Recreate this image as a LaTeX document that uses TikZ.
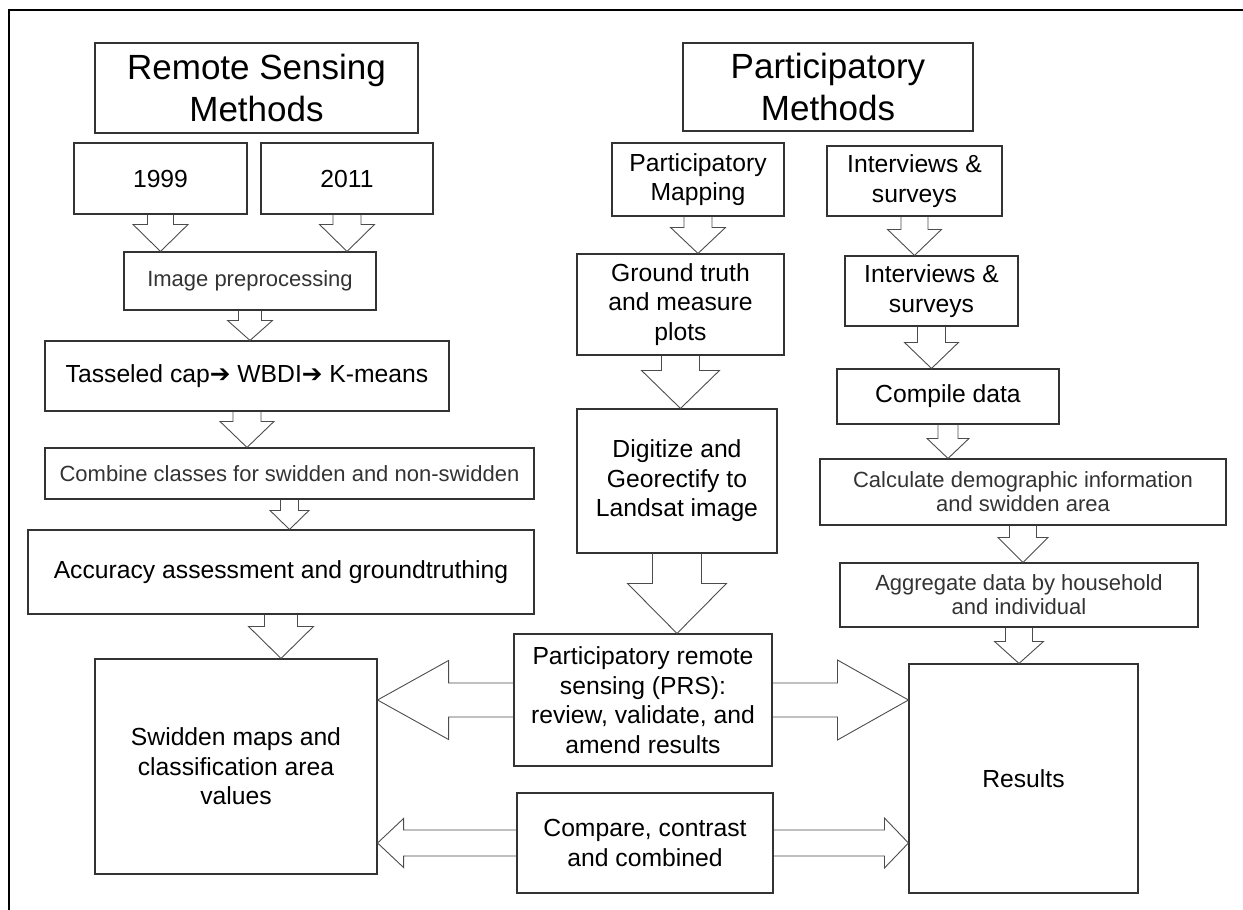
\documentclass[tikz,border=0pt]{standalone}
\usepackage{fontspec}
\setmainfont{Liberation Sans}
\newfontfamily\dejavu{DejaVu Sans}
\usetikzlibrary{calc}
\tikzset{
 box/.style={draw=black!80, line width=1.1pt, align=center, inner sep=0pt, font=\fontsize{24.7}{29.5}\selectfont},
 lightbox/.style={box, font=\fontsize{22}{24}\selectfont, text=black!80},
 titlebox/.style={box, font=\fontsize{35}{42}\selectfont},
 blk/.style={draw=black!70, line width=0.9pt, line join=miter},
 frameline/.style={line width=2.5pt, draw=black}
}
% \bx{name}{style}{left}{top}{right}{bottom}{text}
\newcommand{\bx}[7]{\node[#2, minimum width={#5pt-#3pt}, minimum height={#6pt-#4pt}] (#1) at ({(#3+#5)/2},{(#4+#6)/2}) {#7};}
% \darr{from}{to}{shaft half}{wing half}{head length}
\newcommand{\darr}[5]{\draw[blk] let \p1=(#1.south), \p2=(#2.north) in
 (\x1-#3pt,\y1) -- (\x1-#3pt,\y2+#5pt) -- (\x1-#4pt,\y2+#5pt) -- (\x1,\y2) -- (\x1+#4pt,\y2+#5pt) -- (\x1+#3pt,\y2+#5pt) -- (\x1+#3pt,\y1);}
\newcommand{\larr}[5]{\draw[blk] let \p1=(#1.west), \p2=(#2.east) in
 (\x1,\y1+#3pt) -- (\x2+#5pt,\y1+#3pt) -- (\x2+#5pt,\y1+#4pt) -- (\x2,\y1) -- (\x2+#5pt,\y1-#4pt) -- (\x2+#5pt,\y1-#3pt) -- (\x1,\y1-#3pt);}
\newcommand{\rarr}[5]{\draw[blk] let \p1=(#1.east), \p2=(#2.west) in
 (\x1,\y1+#3pt) -- (\x2-#5pt,\y1+#3pt) -- (\x2-#5pt,\y1+#4pt) -- (\x2,\y1) -- (\x2-#5pt,\y1-#4pt) -- (\x2-#5pt,\y1-#3pt) -- (\x1,\y1-#3pt);}
\begin{document}
\begin{tikzpicture}[x=1pt,y=-1pt]
\useasboundingbox (0,0) rectangle (1243,910);
% frame
\coordinate (ftl) at (9,10);
\coordinate (ftr) at (1243,10);
\coordinate (fbl) at (9,910);
\draw[frameline] (ftr) -- (ftl) -- (fbl);
% left column
\bx{rsm}{titlebox}{95}{43}{418}{133}{Remote Sensing\\Methods}
\bx{y1999}{box}{74}{143}{247}{214}{1999}
\bx{y2011}{box}{261}{143}{433}{214}{2011}
\bx{imgpre}{lightbox}{124}{252}{376}{310}{Image preprocessing}
\bx{tass}{box}{45}{341}{449}{411}{Tasseled cap{\dejavu ➔} WBDI{\dejavu ➔} K-means}
\bx{comb}{lightbox}{45}{448}{534}{499}{Combine classes for swidden and non-swidden}
\bx{acc}{box}{28}{530}{534}{614}{Accuracy assessment and groundtruthing}
\bx{swid}{box}{95}{659}{377}{874}{Swidden maps and\\classification area\\values}
% middle column
\bx{pm}{titlebox}{683}{43}{973}{131}{Participatory\\Methods}
\bx{pmap}{box}{612}{143}{784}{216}{Participatory\\Mapping}
\bx{gt}{box}{577}{254}{784}{355}{Ground truth\\and measure\\plots}
\bx{dig}{box}{577}{409}{777}{553}{Digitize and\\Georectify to\\Landsat image}
\bx{prs}{box}{514}{634}{772}{766}{Participatory remote\\sensing (PRS):\\review, validate, and\\amend results}
\bx{cmp}{box}{517}{793}{773}{893}{Compare, contrast\\and combined}
% right column
\bx{is1}{box}{827}{146}{1002}{216}{Interviews \&\\surveys}
\bx{is2}{box}{845}{256}{1018}{326}{Interviews \&\\surveys}
\bx{compile}{box}{837}{369}{1059}{424}{Compile data}
\bx{calc}{lightbox}{820}{459}{1226}{525}{Calculate demographic information\\and swidden area}
\bx{agg}{lightbox}{840}{563}{1198}{627}{Aggregate data by household\\and individual}
\bx{res}{box}{909}{664}{1138}{893}{Results}
% block arrows
\darr{y1999}{imgpre}{13}{27.5}{27}
\darr{y2011}{imgpre}{14}{27.5}{27}
\darr{imgpre}{tass}{11.5}{22.5}{20}
\darr{tass}{comb}{14}{27}{26}
\darr{comb}{acc}{9}{19.5}{19}
\darr{acc}{swid}{16.5}{32.5}{32}
\darr{pmap}{gt}{14}{27.5}{26}
\darr{gt}{dig}{19}{39}{38}
\darr{dig}{prs}{24.5}{49.5}{50}
\darr{is1}{is2}{13.5}{27}{26}
\darr{is2}{compile}{14}{27}{26}
\darr{compile}{calc}{10}{21}{20}
\darr{calc}{agg}{13.5}{25}{25}
\darr{agg}{res}{13.5}{24.5}{22}
\larr{prs}{swid}{17}{39.5}{71}
\rarr{prs}{res}{17}{40}{71}
\larr{cmp}{swid}{13}{24.5}{26}
\rarr{cmp}{res}{13}{25}{24}
\end{tikzpicture}
\end{document}
